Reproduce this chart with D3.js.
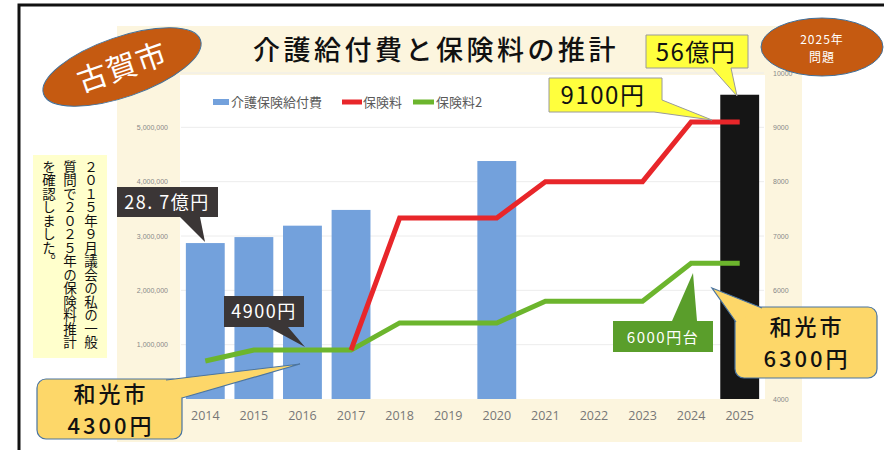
<!DOCTYPE html>
<html>
<head>
<meta charset="utf-8">
<script src="https://cdn.jsdelivr.net/npm/d3@7"></script>
<style>
  body { margin: 0; background: #fff; }
  svg { display: block; font-family: "Noto Sans CJK JP", "Noto Sans", sans-serif; }
</style>
</head>
<body>
<svg id="chart" width="884" height="450"></svg>
<script>
// data
var years = ["2014","2015","2016","2017","2018","2019","2020","2021","2022","2023","2024","2025"];
var benefit = [2870000, 2980000, 3190000, 3480000, null, null, 4380000, null, null, null, null, 5600000];
var premium = [null, null, null, 4900, 7330, 7330, 7330, 8000, 8000, 8000, 9100, 9100];
var premium2 = [4700, 4900, 4900, 4900, 5400, 5400, 5400, 5800, 5800, 5800, 6500, 6500];
// tick labels visible on the slide (others are covered by the callouts)
var leftTicks = [1000000, 2000000, 3000000, 4000000, 5000000];
var rightTicks = [4000, 6000, 7000, 8000, 9000, 10000];
var gridTicks = [1000000, 2000000, 3000000, 4000000, 5000000, 6000000];
var legendNames = ["介護保険給付費", "保険料", "保険料2"];

var svg = d3.select("#chart");

// outer frame
svg.append("rect").attr("x", 19).attr("y", 5).attr("width", 900).attr("height", 480)
   .attr("fill", "none").attr("stroke", "#111").attr("stroke-width", 3);

// cream panel + white plot area
svg.append("rect").attr("x", 117).attr("y", 26).attr("width", 685).attr("height", 416).attr("fill", "#fcf5de");
svg.append("rect").attr("x", 180).attr("y", 75).attr("width", 585).attr("height", 324).attr("fill", "#fff");

svg.append("text").attr("x", 436).attr("y", 60).attr("text-anchor", "middle")
   .attr("font-size", 27).attr("font-weight", 500).attr("letter-spacing", 3.5).attr("fill", "#111")
   .text("介護給付費と保険料の推計");

var x = d3.scaleBand().domain(years).range([181, 764]).paddingInner(0.2).paddingOuter(0.1);
var yL = d3.scaleLinear().domain([0, 6000000]).range([399, 73]);
var yR = d3.scaleLinear().domain([4000, 10000]).range([399, 73]);

// grid
svg.append("g").selectAll("line").data(gridTicks).join("line")
   .attr("x1", 181).attr("x2", 764).attr("y1", function(d){ return yL(d); }).attr("y2", function(d){ return yL(d); })
   .attr("stroke", "#ececec").attr("stroke-width", 1);

// axes
var axL = svg.append("g").attr("transform", "translate(171,0)")
   .call(d3.axisLeft(yL).tickValues(leftTicks).tickFormat(d3.format(",")).tickSize(0));
var axR = svg.append("g").attr("transform", "translate(770,0)")
   .call(d3.axisRight(yR).tickValues(rightTicks).tickFormat(d3.format("d")).tickSize(0));
var axB = svg.append("g").attr("transform", "translate(0,408)")
   .call(d3.axisBottom(x).tickSize(0));
[axL, axR, axB].forEach(function(a){ a.select(".domain").remove(); });
axL.selectAll("text").attr("font-size", 7).attr("fill", "#888").attr("font-family", "Liberation Sans");
axR.selectAll("text").attr("font-size", 7).attr("fill", "#888").attr("font-family", "Liberation Sans");
axB.selectAll("text").attr("font-size", 12.5).attr("fill", "#777").attr("font-family", "Open Sans");

// bars
svg.append("g").selectAll("rect").data(years).join("rect")
   .filter(function(d, i){ return benefit[i] != null; })
   .attr("x", function(d){ return x(d); })
   .attr("y", function(d){ return yL(benefit[years.indexOf(d)]); })
   .attr("width", x.bandwidth())
   .attr("height", function(d){ return 399 - yL(benefit[years.indexOf(d)]); })
   .attr("fill", function(d){ return d == "2025" ? "#151515" : "#73a1dc"; });

// lines
var line = d3.line()
   .defined(function(d){ return d.v != null; })
   .x(function(d){ return x(d.y) + x.bandwidth() / 2; })
   .y(function(d){ return yR(d.v); });
function series(vals){ return years.map(function(y, i){ return {y: y, v: vals[i]}; }); }
svg.append("path").attr("d", line(series(premium2))).attr("fill", "none")
   .attr("stroke", "#6cb52d").attr("stroke-width", 5);
svg.append("path").attr("d", line(series(premium))).attr("fill", "none")
   .attr("stroke", "#e8262a").attr("stroke-width", 5);

// legend
var lg = svg.append("g").attr("font-size", 13).attr("fill", "#595959");
lg.append("rect").attr("x", 213).attr("y", 99).attr("width", 16).attr("height", 6).attr("fill", "#73a1dc");
lg.append("text").attr("x", 231).attr("y", 107).text(legendNames[0]);
lg.append("line").attr("x1", 342).attr("x2", 362).attr("y1", 102).attr("y2", 102).attr("stroke", "#e8262a").attr("stroke-width", 5);
lg.append("text").attr("x", 363).attr("y", 107).text(legendNames[1]);
lg.append("line").attr("x1", 413).attr("x2", 434).attr("y1", 102).attr("y2", 102).attr("stroke", "#6cb52d").attr("stroke-width", 5);
lg.append("text").attr("x", 436).attr("y", 107).text(legendNames[2]);

// callouts: box + pointer polygon
function callout(pts, fill, stroke, label, tx, ty, size, color){
  svg.append("path").attr("d", "M" + pts.join("L") + "Z")
     .attr("fill", fill).attr("stroke", stroke || "none").attr("stroke-width", 1);
  svg.append("text").attr("x", tx).attr("y", ty).attr("text-anchor", "middle")
     .attr("font-size", size).attr("fill", color).attr("letter-spacing", 1.5).text(label);
}
callout([[117,187],[218,187],[218,217],[200,217],[205,242],[180,217],[117,217]], "#3b3636", null,
        "28. 7億円", 167, 209, 18, "#fff");
callout([[224,296],[304,296],[304,327],[288,327],[305,347],[268,327],[224,327]], "#3b3636", null,
        "4900円", 264, 318, 18, "#fff");
callout([[613,321],[672,321],[693,273],[697,321],[713,321],[713,352],[613,352]], "#5a9e2b", null,
        "6000円台", 663, 343, 15, "#fff");
callout([[549,78],[662,78],[662,100],[712,120],[654,112],[549,112]], "#ffff3d", "#9a9a9a",
        "9100円", 603, 104, 24, "#111");
callout([[646,35],[748,35],[748,68],[731,68],[737,96],[712,68],[646,68]], "#ffff3d", "#9a9a9a",
        "56億円", 696, 61, 24, "#111");

// rounded callouts (和光市)
function roundCallout(bx, by, bw, bh, tip, base, lines, tx, ty){
  var g = svg.append("g");
  g.append("rect").attr("x", bx).attr("y", by).attr("width", bw).attr("height", bh).attr("rx", 9)
   .attr("fill", "#fdd769").attr("stroke", "#4a74a0").attr("stroke-width", 1.2);
  g.append("path").attr("d", "M" + base[0] + "L" + tip + "L" + base[1])
   .attr("fill", "#fdd769").attr("stroke", "#4a74a0").attr("stroke-width", 1.2);
  lines.forEach(function(t, i){
    g.append("text").attr("x", tx).attr("y", ty + i * 32).attr("text-anchor", "middle")
     .attr("font-size", 22).attr("font-weight", 500).attr("letter-spacing", 3).attr("fill", "#111").text(t);
  });
}
roundCallout(735, 307, 142, 71, [712, 288], [[762, 308], [736, 322]], ["和光市", "6300円"], 807, 335);
roundCallout(37, 379, 145, 60, [300, 364], [[166, 380], [182, 398]], ["和光市", "4300円"], 111, 402);

// ellipses
var e1 = svg.append("g").attr("transform", "translate(122,67) rotate(-19)");
e1.append("ellipse").attr("rx", 83).attr("ry", 30).attr("fill", "#c55a11").attr("stroke", "#41719c");
e1.append("text").attr("y", 11).attr("text-anchor", "middle").attr("font-size", 30).attr("fill", "#fff")
  .attr("letter-spacing", 1).text("古賀市");
var e2 = svg.append("g").attr("transform", "translate(822,47)");
e2.append("ellipse").attr("rx", 61).attr("ry", 29).attr("fill", "#c55a11").attr("stroke", "#41719c");
e2.append("text").attr("y", -3).attr("text-anchor", "middle").attr("font-size", 12).attr("fill", "#fff").attr("letter-spacing", 1).text("2025年");
e2.append("text").attr("y", 15).attr("text-anchor", "middle").attr("font-size", 12).attr("fill", "#fff").attr("letter-spacing", 1).text("問題");

// vertical note
svg.append("rect").attr("x", 33).attr("y", 155).attr("width", 74).attr("height", 203).attr("fill", "#ffffcc");
var note = ["２０１５年９月議会の私の一般", "質問で２０２５年の保険料推計", "を確認しました。"];
note.forEach(function(t, i){
  svg.append("text").attr("x", 91 - i * 21).attr("y", 160)
     .style("writing-mode", "vertical-rl").style("text-orientation", "upright")
     .attr("font-size", 13.5).attr("fill", "#111").text(t);
});
</script>
</body>
</html>
